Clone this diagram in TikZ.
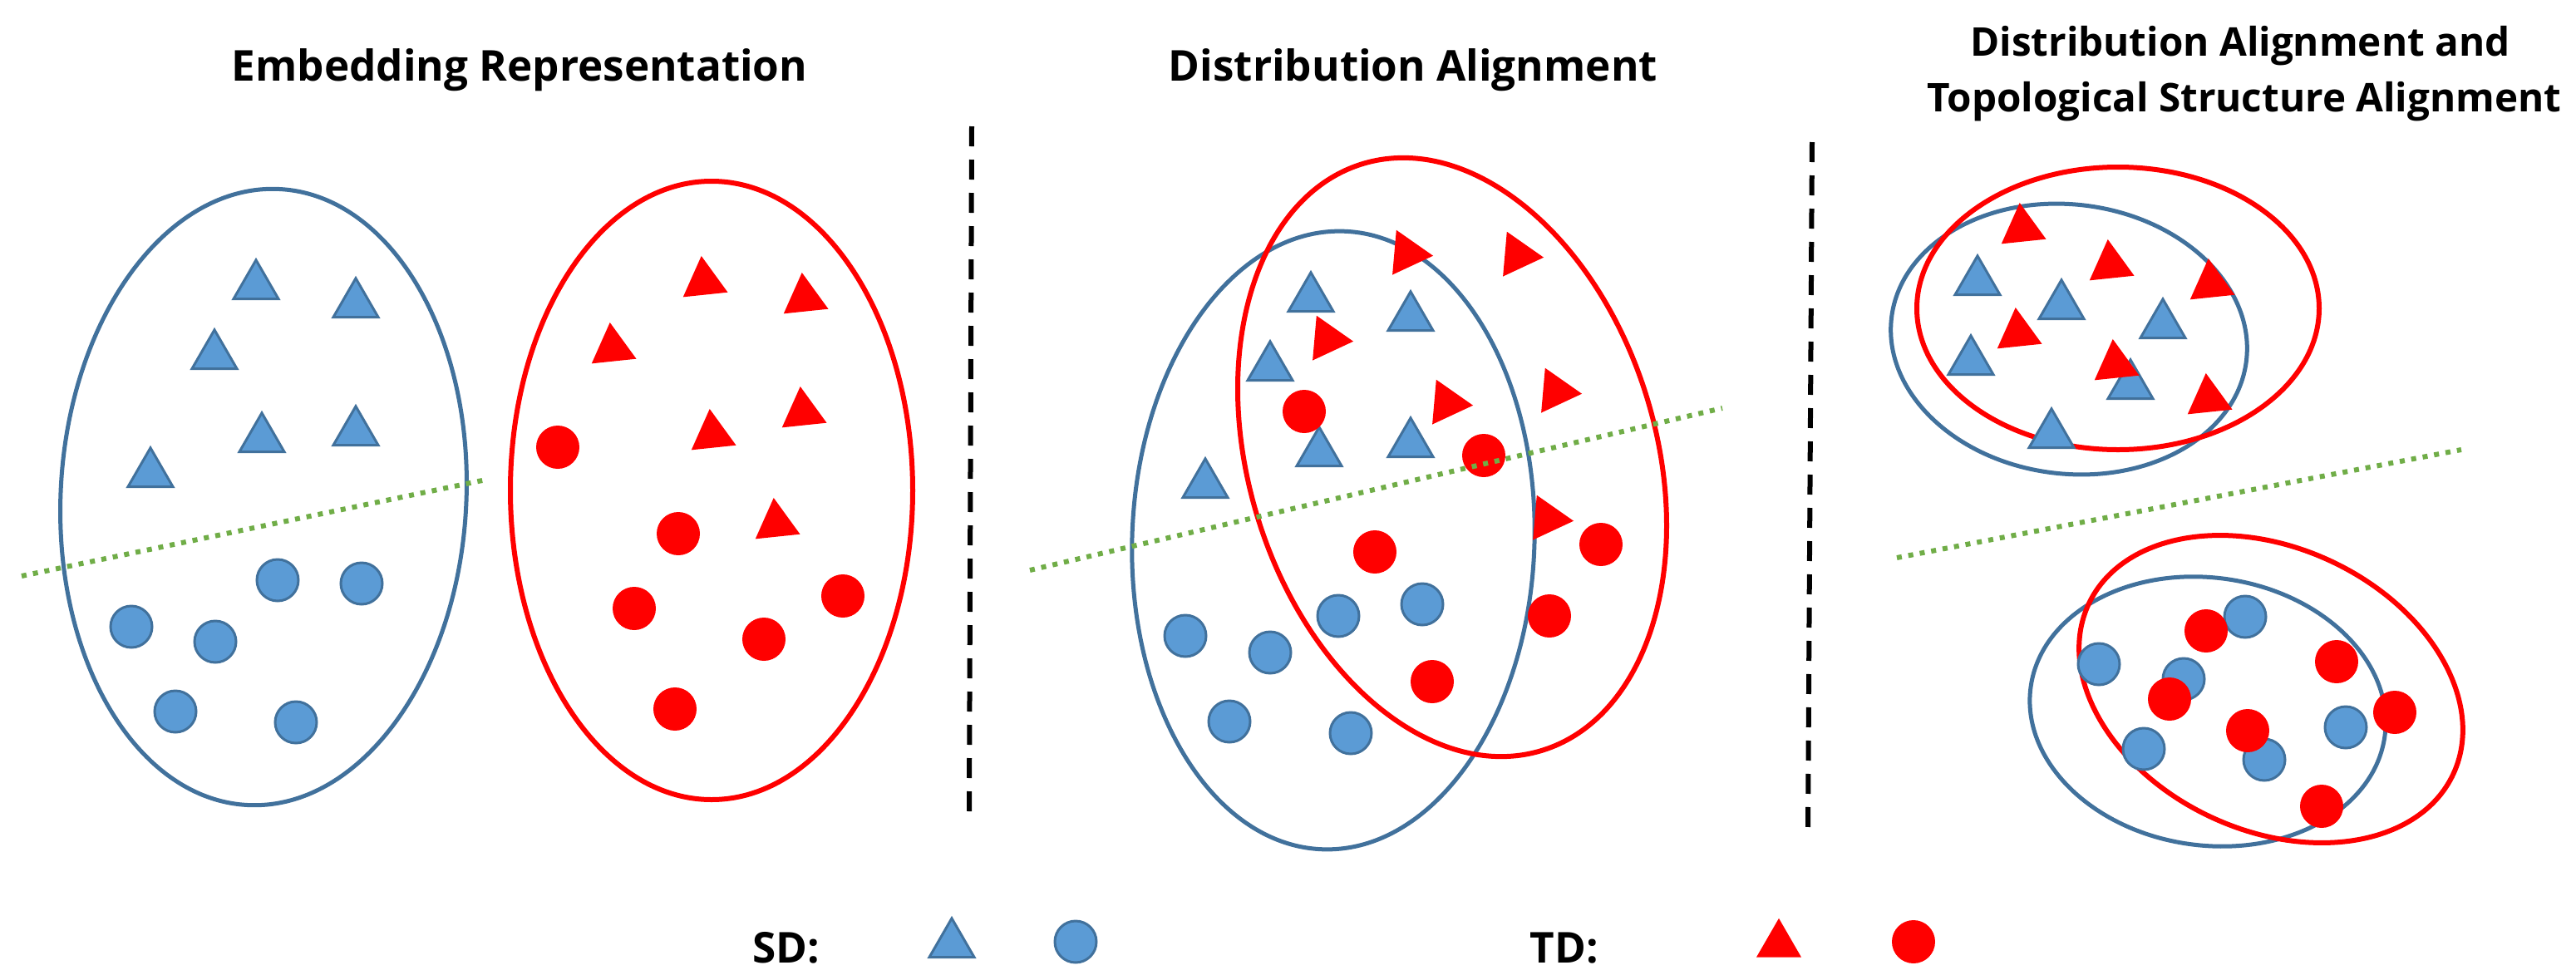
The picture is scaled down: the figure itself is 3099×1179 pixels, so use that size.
\documentclass[tikz,border=0pt]{standalone}
\usepackage{fontspec}
\setmainfont{Open Sans}
\usetikzlibrary{shapes.geometric}
\definecolor{sdfill}{HTML}{5B9BD5}
\definecolor{sdline}{HTML}{41719C}
\definecolor{tdred}{HTML}{FF0000}
\definecolor{sepgreen}{HTML}{70AD47}
\tikzset{
  sdtri/.style={regular polygon, regular polygon sides=3, minimum size=15.6pt, inner sep=0pt, fill=sdfill, draw=sdline, line width=0.75pt},
  tdtri/.style={regular polygon, regular polygon sides=3, minimum size=15.6pt, inner sep=0pt, fill=tdred, draw=none},
  sdcirc/.style={circle, minimum size=12.5pt, inner sep=0pt, fill=sdfill, draw=sdline, line width=0.75pt},
  tdcirc/.style={circle, minimum size=13pt, inner sep=0pt, fill=tdred, draw=none},
  sdell/.style={ellipse, draw=sdline, line width=1.25pt, inner sep=0pt},
  tdell/.style={ellipse, draw=tdred, line width=1.5pt, inner sep=0pt},
  sepline/.style={draw=sepgreen, line width=1.5pt, dash pattern=on 1.5pt off 2pt},
  divider/.style={draw=black, line width=1.5pt, dash pattern=on 6pt off 4pt},
  ttl/.style={font=\bfseries\fontsize{12.8}{15}\selectfont, anchor=base, inner sep=0pt},
  ttlsmall/.style={font=\bfseries\fontsize{11.9}{14}\selectfont, anchor=base, inner sep=0pt},
}
\begin{document}
\begin{tikzpicture}[x=0.25pt,y=-0.25pt]
\useasboundingbox (0,0) rectangle (3099,1179);
\fill[white] (0,0) rectangle (3099,1179);

% titles
\node[ttl] (t1) at (625,97) {Embedding Representation};
\node[ttl] (t2) at (1700,97) {Distribution Alignment};
\node[ttlsmall] (t3a) at (2695,67) {Distribution Alignment and};
\node[ttlsmall] (t3b) at (2700,134) {Topological Structure Alignment};

% dividers
\coordinate (d1a) at (1169,152); \coordinate (d1b) at (1166,979);
\coordinate (d2a) at (2180,171); \coordinate (d2b) at (2175,995);
\draw[divider] (d1a) -- (d1b);
\draw[divider] (d2a) -- (d2b);

% ===== Panel 1 =====
\node[sdell, minimum width=122pt, minimum height=185.5pt, rotate=-3] (p1sd) at (317,598) {};
\node[tdell, minimum width=121pt, minimum height=186pt] (p1td) at (856,590) {};
\foreach \n/\p in {a/{(308,344)},b/{(428,366)},c/{(258,428)},d/{(315,528)},e/{(428,520)},f/{(181,570)}}
  \node[sdtri] (p1st\n) at \p {};
\foreach \n/\p in {a/{(334,698)},b/{(435,702)},c/{(158,754)},d/{(259,772)},e/{(211,856)},f/{(356,869)}}
  \node[sdcirc] (p1sc\n) at \p {};
\foreach \n/\p in {a/{(847,339)},b/{(968,359)},c/{(737,419)},d/{(857,523)},e/{(966,496)},f/{(934,630)}}
  \node[tdtri, rotate=6] (p1tt\n) at \p {};
\foreach \n/\p in {a/{(671,538)},b/{(816,642)},c/{(763,732)},d/{(1014,717)},e/{(919,769)},f/{(812,853)}}
  \node[tdcirc] (p1tc\n) at \p {};
\coordinate (g1a) at (26,693); \coordinate (g1b) at (585,577);
\draw[sepline] (g1a) -- (g1b);

% ===== Panel 2 =====
\node[sdell, minimum width=121pt, minimum height=186pt, rotate=-2] (p2sd) at (1604,650) {};
\node[tdell, minimum width=122.5pt, minimum height=184.5pt, rotate=17] (p2td) at (1747,550) {};
\foreach \n/\p in {a/{(1577,359)},b/{(1697,382)},c/{(1528,442)},d/{(1587,545)},e/{(1697,534)},f/{(1450,583)}}
  \node[sdtri] (p2st\n) at \p {};
\foreach \n/\p in {a/{(1693,305)},b/{(1826,307)},c/{(1597,408)},d/{(1741,485)},e/{(1872,471)},f/{(1862,624)}}
  \node[tdtri, rotate=-95] (p2tt\n) at \p {};
\foreach \n/\p in {a/{(1610,741)},b/{(1711,727)},c/{(1426,765)},d/{(1528,785)},e/{(1479,868)},f/{(1625,882)}}
  \node[sdcirc] (p2sc\n) at \p {};
\foreach \n/\p in {a/{(1569,495)},b/{(1785,548)},c/{(1654,664)},d/{(1926,655)},e/{(1864,741)},f/{(1723,820)}}
  \node[tdcirc] (p2tc\n) at \p {};
\coordinate (g2a) at (1239,686); \coordinate (g2b) at (2072,491);
\draw[sepline] (g2a) -- (g2b);

% ===== Panel 3 =====
\node[sdell, minimum width=107.5pt, minimum height=81pt, rotate=-7] (p3sdt) at (2489,408) {};
\node[tdell, minimum width=121pt, minimum height=85pt] (p3tdt) at (2548,371) {};
\node[sdell, minimum width=107.5pt, minimum height=80.5pt, rotate=-8] (p3sdb) at (2656,856) {};
\node[tdell, minimum width=121pt, minimum height=85pt, rotate=-25] (p3tdb) at (2732,829) {};
\foreach \n/\p in {a/{(2379,339)},b/{(2480,368)},c/{(2602,391)},d/{(2371,435)},e/{(2563,464)},f/{(2468,523)}}
  \node[sdtri] (p3st\n) at \p {};
\foreach \n/\p in {a/{(2433,275)},b/{(2539,319)},c/{(2660,342)},d/{(2428,401)},e/{(2545,439)},f/{(2657,480)}}
  \node[tdtri, rotate=6] (p3tt\n) at \p {};
\foreach \n/\p in {a/{(2701,742)},b/{(2525,799)},c/{(2627,817)},d/{(2579,901)},e/{(2724,914)},f/{(2822,875)}}
  \node[sdcirc] (p3sc\n) at \p {};
\foreach \n/\p in {a/{(2654,759)},b/{(2811,796)},c/{(2610,841)},d/{(2704,879)},e/{(2881,857)},f/{(2793,970)}}
  \node[tdcirc] (p3tc\n) at \p {};
\coordinate (g3a) at (2282,671); \coordinate (g3b) at (2961,541);
\draw[sepline] (g3a) -- (g3b);

% ===== Legend =====
\node[ttl] (sdlab) at (946,1158) {SD:};
\node[sdtri] (sdt) at (1145,1136) {};
\node[sdcirc] (sdc) at (1294,1133) {};
\node[ttl] (tdlab) at (1882,1158) {TD:};
\node[tdtri] (tdt) at (2140,1136) {};
\node[tdcirc] (tdc) at (2302,1133) {};
\end{tikzpicture}
\end{document}
